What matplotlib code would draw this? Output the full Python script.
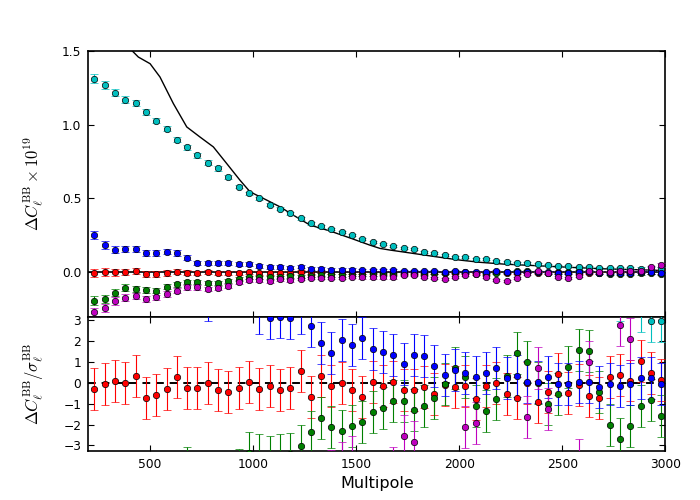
import numpy as np
import matplotlib
matplotlib.use('Agg')
import matplotlib.pyplot as plt
from matplotlib.ticker import FormatStrFormatter

plt.rcParams['font.family'] = ['DejaVu Sans']
plt.rcParams['mathtext.fontset'] = 'cm'
plt.rcParams['xtick.direction'] = 'in'
plt.rcParams['ytick.direction'] = 'in'
plt.rcParams['xtick.top'] = True
plt.rcParams['ytick.right'] = True
plt.rcParams['xtick.major.size'] = 4.5
plt.rcParams['ytick.major.size'] = 4.5
plt.rcParams['xtick.major.pad'] = 5
plt.rcParams['ytick.major.pad'] = 5
plt.rcParams['axes.linewidth'] = 1.2

# multipole bin centres
ell = [230, 280, 330, 380, 430, 480, 530, 580, 630, 680,
       730, 780, 830, 880, 930, 980, 1030, 1080, 1130, 1180,
       1230, 1280, 1330, 1380, 1430, 1480, 1530, 1580, 1630, 1680,
       1730, 1780, 1830, 1880, 1930, 1980, 2030, 2080, 2130, 2180,
       2230, 2280, 2330, 2380, 2430, 2480, 2530, 2580, 2630, 2680,
       2730, 2780, 2830, 2880, 2930, 2980]

# top panel: Delta C_l^BB x 1e19
dcl_cyan = [1.311, 1.266, 1.216, 1.169, 1.144, 1.088, 1.027, 0.973, 0.899, 0.845,
            0.791, 0.743, 0.703, 0.645, 0.581, 0.534, 0.500, 0.459, 0.430, 0.399,
            0.365, 0.331, 0.312, 0.293, 0.273, 0.253, 0.226, 0.204, 0.193, 0.178,
            0.165, 0.156, 0.138, 0.130, 0.117, 0.104, 0.101, 0.090, 0.091, 0.079,
            0.071, 0.065, 0.063, 0.058, 0.052, 0.046, 0.044, 0.038, 0.037, 0.031,
            0.031, 0.030, 0.030, 0.025, 0.023, 0.023]
dcl_blue = [0.254, 0.185, 0.153, 0.158, 0.160, 0.133, 0.133, 0.140, 0.131, 0.099,
            0.063, 0.063, 0.063, 0.063, 0.056, 0.056, 0.043, 0.036, 0.036, 0.032,
            0.038, 0.025, 0.025, 0.018, 0.018, 0.018, 0.018, 0.016, 0.015, 0.014,
            0.010, 0.012, 0.011, 0.008, 0.004, 0.006, 0.005, 0.003, 0.004, 0.006,
            0.002, 0.003, 0.000, 0.000, 0.002, -0.001, -0.001, 0.000, 0.000, -0.002,
            -0.001, -0.001, -0.001, 0.002, 0.002, -0.001]
dcl_red = [-0.005, 0.002, 0.002, 0.002, 0.009, -0.011, -0.009, -0.005, 0.005, -0.002,
           -0.005, 0.002, -0.005, -0.005, -0.005, 0.000, -0.005, -0.005, -0.002, -0.003,
           0.005, -0.007, 0.003, -0.001, 0.000, -0.003, -0.006, 0.000, -0.002, 0.000,
           -0.003, -0.003, -0.002, -0.004, -0.001, -0.002, -0.001, -0.006, -0.001, 0.000,
           -0.004, -0.005, 0.000, -0.006, -0.003, 0.003, -0.003, -0.001, -0.004, -0.004,
           0.002, 0.002, 0.001, 0.005, 0.002, 0.001]
dcl_green = [-0.191, -0.178, -0.137, -0.104, -0.110, -0.117, -0.124, -0.097, -0.079, -0.065,
             -0.065, -0.072, -0.072, -0.056, -0.043, -0.034, -0.034, -0.034, -0.034, -0.025,
             -0.028, -0.022, -0.016, -0.020, -0.020, -0.018, -0.016, -0.014, -0.012, -0.009,
             -0.009, -0.012, -0.010, -0.007, -0.001, 0.005, 0.002, -0.008, -0.009, -0.005,
             0.002, 0.008, 0.006, 0.000, -0.006, -0.003, 0.004, 0.008, 0.008, -0.003,
             -0.010, -0.013, -0.010, -0.006, -0.004, -0.008]
dcl_magenta = [-0.268, -0.239, -0.194, -0.171, -0.160, -0.178, -0.169, -0.147, -0.124, -0.101,
               -0.101, -0.110, -0.106, -0.090, -0.068, -0.054, -0.054, -0.061, -0.047, -0.052,
               -0.045, -0.038, -0.038, -0.038, -0.038, -0.032, -0.034, -0.034, -0.034, -0.034,
               -0.018, -0.018, -0.034, -0.041, -0.047, -0.034, -0.018, -0.009, -0.032, -0.051,
               -0.058, -0.035, -0.008, 0.011, -0.003, -0.032, -0.035, -0.025, 0.006, 0.002,
               0.002, 0.008, 0.006, 0.011, 0.033, 0.050]
sigma_top = [0.028, 0.026, 0.024, 0.022, 0.021, 0.020, 0.019, 0.018, 0.017, 0.016,
             0.015, 0.014, 0.014, 0.013, 0.013, 0.012, 0.012, 0.011, 0.011, 0.010,
             0.010, 0.010, 0.009, 0.009, 0.009, 0.009, 0.008, 0.008, 0.008, 0.008,
             0.008, 0.007, 0.007, 0.007, 0.007, 0.007, 0.007, 0.007, 0.007, 0.007,
             0.007, 0.007, 0.007, 0.007, 0.007, 0.007, 0.007, 0.007, 0.007, 0.008,
             0.008, 0.008, 0.008, 0.009, 0.010, 0.012]

# bottom panel: Delta C_l / sigma_l
res_red = [-0.30, -0.06, 0.06, -0.02, 0.32, -0.73, -0.60, -0.30, 0.27, -0.25,
           -0.25, -0.02, -0.37, -0.45, -0.25, 0.02, -0.30, -0.16, -0.37, -0.25,
           0.54, -0.70, 0.32, -0.14, -0.03, -0.35, -0.68, 0.02, -0.18, 0.05,
           -0.35, -0.35, -0.22, -0.54, -0.10, -0.21, -0.16, -0.80, -0.16, -0.02,
           -0.54, -0.73, 0.00, -0.94, -0.46, 0.40, -0.51, -0.11, -0.65, -0.73,
           0.27, 0.35, 0.10, 1.02, 0.46, 0.13]
res_blue = [12.0, 9.0, 7.0, 7.0, 7.5, 6.5, 6.5, 7.0, 7.0, 6.0,
            4.5, 3.96, 4.5, 4.6, 4.3, 4.3, 3.32, 3.09, 3.12, 3.09,
            3.32, 2.72, 1.88, 1.40, 2.04, 1.78, 2.13, 1.61, 1.45, 1.32,
            0.89, 1.32, 1.27, 0.78, 0.37, 0.60, 0.45, 0.29, 0.45, 0.70,
            0.22, 0.32, 0.02, 0.05, 0.25, -0.06, -0.06, 0.02, 0.02, -0.22,
            -0.06, -0.14, -0.06, 0.21, 0.21, -0.06]
res_green = [-14.0, -12.0, -10.0, -8.0, -8.0, -7.0, -7.0, -6.0, -5.0, -4.05,
             -4.5, -5.0, -5.0, -4.5, -4.15, -3.36, -3.45, -3.56, -3.45, -3.40,
             -3.04, -2.35, -1.70, -2.13, -2.32, -2.07, -1.89, -1.40, -1.23, -0.89,
             -0.89, -1.32, -1.13, -0.73, -0.06, 0.70, 0.25, -1.10, -1.37, -0.78,
             0.33, 1.40, 0.97, 0.00, -1.02, -0.54, 0.73, 1.56, 1.50, -0.46,
             -2.02, -2.70, -2.08, -1.13, -0.83, -1.59]
res_cyan = [40.0, 38.0, 36.0, 34.0, 32.0, 30.0, 28.0, 26.0, 25.0, 24.0,
            23.0, 22.0, 21.0, 20.0, 19.0, 18.0, 17.0, 16.0, 15.0, 14.0,
            13.0, 12.0, 11.0, 10.5, 10.0, 9.5, 9.0, 8.5, 8.0, 7.5,
            7.0, 7.0, 6.5, 6.5, 6.0, 6.0, 5.5, 5.5, 5.0, 5.0,
            5.0, 4.8, 4.8, 4.6, 4.6, 4.5, 4.5, 4.5, 4.5, 4.5,
            4.5, 3.96, 4.5, 3.40, 2.93, 2.96]
res_magenta = [-10.0, -9.0, -8.0, -8.0, -7.5, -7.5, -7.0, -7.0, -6.5, -6.0,
               -6.0, -6.0, -6.0, -5.5, -5.0, -5.0, -5.0, -5.0, -5.0, -5.0,
               -5.0, -4.8, -4.6, -4.2, -3.83, -3.56, -4.5, -5.0, -4.5, -4.06,
               -2.53, -2.83, -4.5, -5.0, -5.0, -4.5, -2.13, -1.93, -4.5, -5.0,
               -5.0, -4.5, -1.64, 0.70, -1.27, -4.5, -4.5, -3.67, 0.97, 4.5,
               4.5, 2.75, 2.08, 5.0, 6.0, 8.0]

# theory curve
theory_ell = [200, 300, 380, 411, 443, 500, 548, 613, 678, 742,
              807, 872, 936, 985, 1066, 1131, 1195, 1276, 1373, 1480,
              1567, 1616, 1664, 1778, 1891, 2004, 2101, 2215, 2377, 2538,
              2700, 2862, 3000]
theory_val = [1.85, 1.68, 1.56, 1.502, 1.457, 1.412, 1.322, 1.142, 0.984, 0.916,
              0.849, 0.736, 0.624, 0.545, 0.489, 0.443, 0.387, 0.320, 0.280, 0.228,
              0.184, 0.162, 0.151, 0.128, 0.105, 0.083, 0.068, 0.056, 0.045, 0.034,
              0.024, 0.018, 0.012]

colors = {'r': (1, 0, 0), 'g': (0, 0.5, 0), 'c': (0, 0.75, 0.75),
          'b': (0, 0, 1), 'm': (0.75, 0, 0.75)}
series = [('r', dcl_red, res_red), ('g', dcl_green, res_green),
          ('c', dcl_cyan, res_cyan), ('b', dcl_blue, res_blue),
          ('m', dcl_magenta, res_magenta)]

fig = plt.figure(figsize=(7, 5), dpi=100)
ax1 = fig.add_axes([0.1261, 0.3666, 0.8243, 0.532])
ax2 = fig.add_axes([0.1261, 0.0986, 0.8243, 0.268], sharex=ax1)

style = dict(fmt='o', ms=4.6, mec='k', mew=0.5, capsize=3,
             elinewidth=0.8, capthick=0.8)

ax1.axhline(0, color='k', lw=1.2, zorder=1)
ax1.plot(theory_ell, theory_val, 'k-', lw=1.0, zorder=2)
for key, top, res in series:
    ax1.errorbar(ell, top, yerr=sigma_top, color=colors[key], zorder=3, **style)
    ax2.errorbar(ell, res, yerr=np.ones(len(ell)), color=colors[key], zorder=3,
                 **style)
ax2.axhline(0, color='k', lw=1.4, ls=(0, (4, 3)), zorder=1)

ax1.set_xlim(200, 3000)
ax1.set_ylim(-0.3, 1.5)
ax1.set_yticks([0.0, 0.5, 1.0, 1.5])
ax1.yaxis.set_major_formatter(FormatStrFormatter('%.1f'))
plt.setp(ax1.get_xticklabels(), visible=False)
ax2.set_ylim(-3.25, 3.15)
ax2.set_yticks([-3, -2, -1, 0, 1, 2, 3])
ax2.set_xticks([500, 1000, 1500, 2000, 2500, 3000])

for ax in (ax1, ax2):
    ax.tick_params(labelsize=8.8)

ax1.set_ylabel(r'$\Delta C_\ell^{\rm BB}\times10^{19}$', fontsize=12)
ax2.set_ylabel(r'$\Delta C_\ell^{\rm BB}/\sigma_\ell^{\rm BB}$', fontsize=12)
ax1.yaxis.set_label_coords(-0.074, 0.5)
ax2.yaxis.set_label_coords(-0.074, 0.5)
ax2.set_xlabel('Multipole', fontsize=11.5)

fig.savefig('out.png', dpi=100)
